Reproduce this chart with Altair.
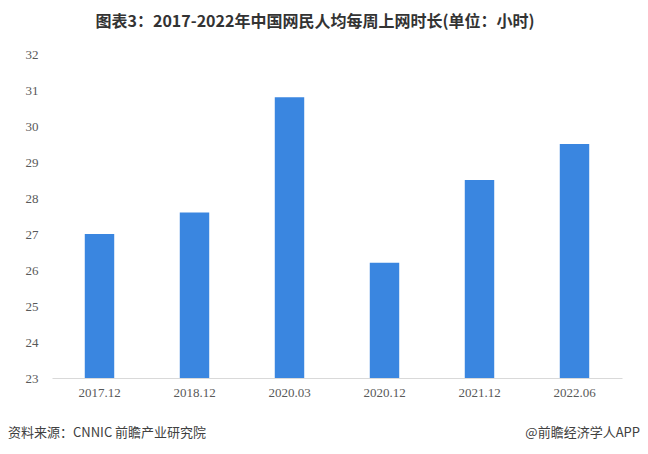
import altair as alt
import pandas as pd

categories = ["2017.12", "2018.12", "2020.03", "2020.12", "2021.12", "2022.06"]
hours = [27.0, 27.6, 30.8, 26.2, 28.5, 29.5]
title_text = ["图表3：2017-2022年中国网民人均每周上网时长(单位：小时)"]
source_left = ["资料来源：CNNIC 前瞻产业研究院"]
source_right = ["@前瞻经济学人APP"]

df = pd.DataFrame({"period": categories, "hours": hours})

bars = alt.Chart(df).mark_bar(color="#3A86E0").encode(
    x=alt.X("period:N", sort=categories, title=None,
            scale=alt.Scale(paddingInner=0.69, paddingOuter=0.345),
            axis=alt.Axis(labelAngle=0, ticks=False, domainColor="#D9D9D9",
                          labelColor="#595959", labelFont="Liberation Serif",
                          labelFontSize=13, labelPadding=8)),
    y=alt.Y("hours:Q", title=None,
            scale=alt.Scale(domain=[23, 32], zero=False, nice=False),
            axis=alt.Axis(values=list(range(23, 33)), ticks=False, domain=False,
                          grid=False, labelColor="#595959",
                          labelFont="Liberation Serif", labelFontSize=13,
                          labelPadding=14)),
    y2=alt.Y2(datum=23),
)

title = alt.Chart(pd.DataFrame({"t": title_text})).mark_text(
    align="center", baseline="middle", fontSize=16, fontWeight="bold",
    font="Noto Sans CJK SC", color="#333333").encode(
    text="t:N", x=alt.value(263), y=alt.value(-32))

left = alt.Chart(pd.DataFrame({"t": source_left})).mark_text(
    align="left", baseline="middle", fontSize=13,
    font="Noto Sans CJK SC", color="#404040").encode(
    text="t:N", x=alt.value(-44), y=alt.value(379))
right = alt.Chart(pd.DataFrame({"t": source_right})).mark_text(
    align="right", baseline="middle", fontSize=13,
    font="Noto Sans CJK SC", color="#404040").encode(
    text="t:N", x=alt.value(588), y=alt.value(379))

chart = alt.layer(bars, title, left, right).properties(
    width=570, height=324,
    autosize=alt.AutoSizeParams(type="none"),
    padding={"left": 44, "top": 46, "right": 18, "bottom": 68},
).configure_view(stroke=None)

chart.save("out.html", embed_options={"renderer": "svg", "actions": False})
